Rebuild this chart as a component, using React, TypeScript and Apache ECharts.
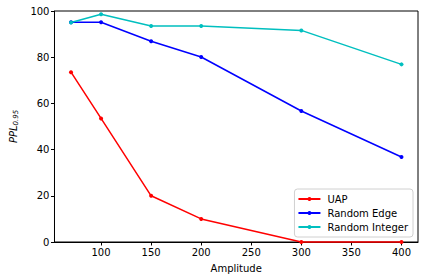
import React, { useEffect, useRef } from "react";
import * as echarts from "echarts";

const amplitudes = [70, 100, 150, 200, 300, 400];
const uap = [73.5, 53.5, 20.0, 10.0, 0, 0];
const randomEdge = [95.1, 95.1, 86.9, 80.1, 56.7, 36.8];
const randomInteger = [95.0, 98.6, 93.5, 93.5, 91.6, 76.9];
const xTicks = [100, 150, 200, 250, 300, 350, 400];
const seriesNames = ["UAP", "Random Edge", "Random Integer"];
const seriesColors = ["#ff0000", "#0000ff", "#00bfbf"];

export default function App() {
  const ref = useRef<HTMLDivElement>(null);
  useEffect(() => {
    if (!ref.current) return;
    const chart = echarts.init(ref.current, null, { renderer: "svg" });
    const font = "DejaVu Sans";
    const values = [uap, randomEdge, randomInteger];
    chart.setOption({
      animation: false,
      textStyle: { fontFamily: font },
      grid: {
        left: 51,
        right: 6,
        top: 11,
        bottom: 38,
        show: true,
        borderColor: "#000",
        borderWidth: 1,
        backgroundColor: "transparent",
      },
      legend: {
        data: seriesNames,
        orient: "vertical",
        right: 11,
        bottom: 43,
        itemWidth: 22,
        itemHeight: 5,
        itemGap: 4,
        padding: [5, 5, 5, 3],
        backgroundColor: "#fff",
        borderColor: "#d0d0d0",
        borderWidth: 1,
        borderRadius: 3,
        textStyle: { fontFamily: font, fontSize: 10, color: "#000", padding: [0, 0, 0, 2] },
      },
      xAxis: {
        type: "value",
        min: 53.5,
        max: 416.5,
        name: "Amplitude",
        nameLocation: "middle",
        nameGap: 21,
        nameTextStyle: { fontFamily: font, fontSize: 10, color: "#000" },
        splitLine: { show: false },
        axisLine: { onZero: false, lineStyle: { color: "#000" } },
        axisTick: { show: true, length: 3.5, customValues: xTicks, lineStyle: { color: "#000" } },
        axisLabel: { customValues: xTicks, fontSize: 10, color: "#000", fontFamily: font, margin: 5 },
      },
      yAxis: {
        type: "value",
        min: 0,
        max: 100,
        interval: 20,
        name: "{i|PPL}{s|0.95}",
        nameLocation: "middle",
        nameGap: 31,
        nameRotate: 90,
        nameTextStyle: {
          rich: {
            i: { fontFamily: font, fontSize: 10, fontStyle: "italic", color: "#000" },
            s: { fontFamily: font, fontSize: 7, fontStyle: "italic", color: "#000", padding: [6, 0, 0, 0] },
          },
        },
        splitLine: { show: false },
        axisLine: { lineStyle: { color: "#000" } },
        axisTick: { show: true, length: 3.5, lineStyle: { color: "#000" } },
        axisLabel: { fontSize: 10, color: "#000", fontFamily: font, margin: 5 },
      },
      series: seriesNames.map((name, k) => ({
        name,
        type: "line",
        data: amplitudes.map((a, i) => [a, values[k][i]]),
        symbol: "circle",
        symbolSize: 4,
        showSymbol: true,
        color: seriesColors[k],
        lineStyle: { width: 1.5, color: seriesColors[k] },
        itemStyle: { color: seriesColors[k] },
        clip: false,
      })),
    });
    return () => chart.dispose();
  }, []);
  return <div ref={ref} style={{ width: 424, height: 280, position: "absolute", left: 0, top: 0 }} />;
}
